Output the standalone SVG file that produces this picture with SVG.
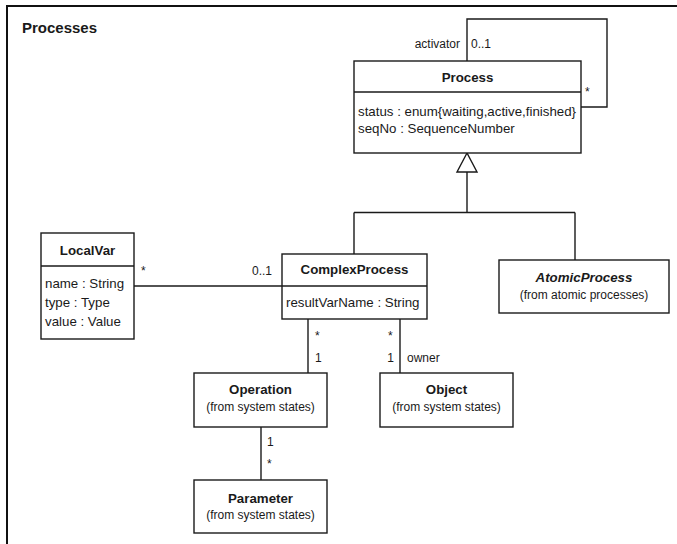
<svg xmlns="http://www.w3.org/2000/svg" width="677" height="544" viewBox="0 0 677 544">
  <style>
    .box { fill: #ffffff; stroke: #1a1a1a; stroke-width: 1.4; }
    .sep { stroke: #1a1a1a; stroke-width: 1.4; }
    .edge { fill: none; stroke: #1a1a1a; stroke-width: 1.4; }
    text { font-family: "Liberation Sans", Arial, sans-serif; fill: #1a1a1a; }
    .title { font-size: 13.3px; font-weight: bold; text-anchor: middle; }
    .italic { font-style: italic; }
    .attr { font-size: 13.3px; }
    .sub { font-size: 12px; text-anchor: middle; }
    .lbl { font-size: 12px; }
    .end { text-anchor: end; }
  </style>

  <!-- package frame -->
  <g id="frame">
    <path d="M7,544 V6 H677" fill="none" stroke="#111111" stroke-width="2"/>
    <text x="22" y="33" font-size="15" font-weight="bold">Processes</text>
  </g>

  <!-- associations and generalization -->
  <g id="connectors">
    <!-- self association on Process -->
    <path class="edge" d="M467,61 V19 H607 V107 H581"/>
    <text class="lbl end" x="460" y="48">activator</text>
    <text class="lbl" x="471" y="48">0..1</text>
    <text class="lbl" x="585" y="96">*</text>

    <!-- generalization tree -->
    <path class="edge" d="M467,172 V212.5 M354,212.5 H575 M354,212.5 V254 M575,212.5 V260"/>
    <polygon points="467,153 457,172 477,172" fill="#ffffff" stroke="#1a1a1a" stroke-width="1.4"/>

    <!-- LocalVar - ComplexProcess -->
    <path class="edge" d="M134,286 H282"/>
    <text class="lbl" x="141" y="275">*</text>
    <text class="lbl end" x="272" y="275">0..1</text>

    <!-- ComplexProcess - Operation -->
    <path class="edge" d="M308,319 V373"/>
    <text class="lbl" x="315" y="340">*</text>
    <text class="lbl" x="315" y="362">1</text>

    <!-- ComplexProcess - Object -->
    <path class="edge" d="M400,319 V373"/>
    <text class="lbl" x="388" y="340">*</text>
    <text class="lbl end" x="394" y="362">1</text>
    <text class="lbl" x="407" y="362">owner</text>

    <!-- Operation - Parameter -->
    <path class="edge" d="M261,427 V480"/>
    <text class="lbl" x="267" y="446">1</text>
    <text class="lbl" x="267" y="468">*</text>
  </g>

  <g id="Process">
    <rect class="box" x="354" y="61" width="227" height="92"/>
    <line class="sep" x1="354" y1="92" x2="581" y2="92"/>
    <text class="title" x="467.5" y="82">Process</text>
    <text class="attr" x="358" y="116">status : enum{waiting,active,finished}</text>
    <text class="attr" x="358" y="133">seqNo : SequenceNumber</text>
  </g>

  <g id="LocalVar">
    <rect class="box" x="41" y="233" width="93" height="106"/>
    <line class="sep" x1="41" y1="266" x2="134" y2="266"/>
    <text class="title" x="87.5" y="255">LocalVar</text>
    <text class="attr" x="45" y="288">name : String</text>
    <text class="attr" x="45" y="307">type : Type</text>
    <text class="attr" x="45" y="326">value : Value</text>
  </g>

  <g id="ComplexProcess">
    <rect class="box" x="282" y="254" width="145" height="65"/>
    <line class="sep" x1="282" y1="286" x2="427" y2="286"/>
    <text class="title" x="354.5" y="274">ComplexProcess</text>
    <text class="attr" x="286" y="307">resultVarName : String</text>
  </g>

  <g id="AtomicProcess">
    <rect class="box" x="499" y="260" width="170" height="53"/>
    <text class="title italic" x="584" y="282">AtomicProcess</text>
    <text class="sub" x="584" y="299">(from atomic processes)</text>
  </g>

  <g id="Operation">
    <rect class="box" x="194" y="373" width="133" height="54"/>
    <text class="title" x="260.5" y="394">Operation</text>
    <text class="sub" x="260.5" y="411">(from system states)</text>
  </g>

  <g id="Object">
    <rect class="box" x="380" y="373" width="133" height="54"/>
    <text class="title" x="446.5" y="394">Object</text>
    <text class="sub" x="446.5" y="411">(from system states)</text>
  </g>

  <g id="Parameter">
    <rect class="box" x="194" y="480" width="133" height="53"/>
    <text class="title" x="260.5" y="503">Parameter</text>
    <text class="sub" x="260.5" y="519">(from system states)</text>
  </g>
</svg>
